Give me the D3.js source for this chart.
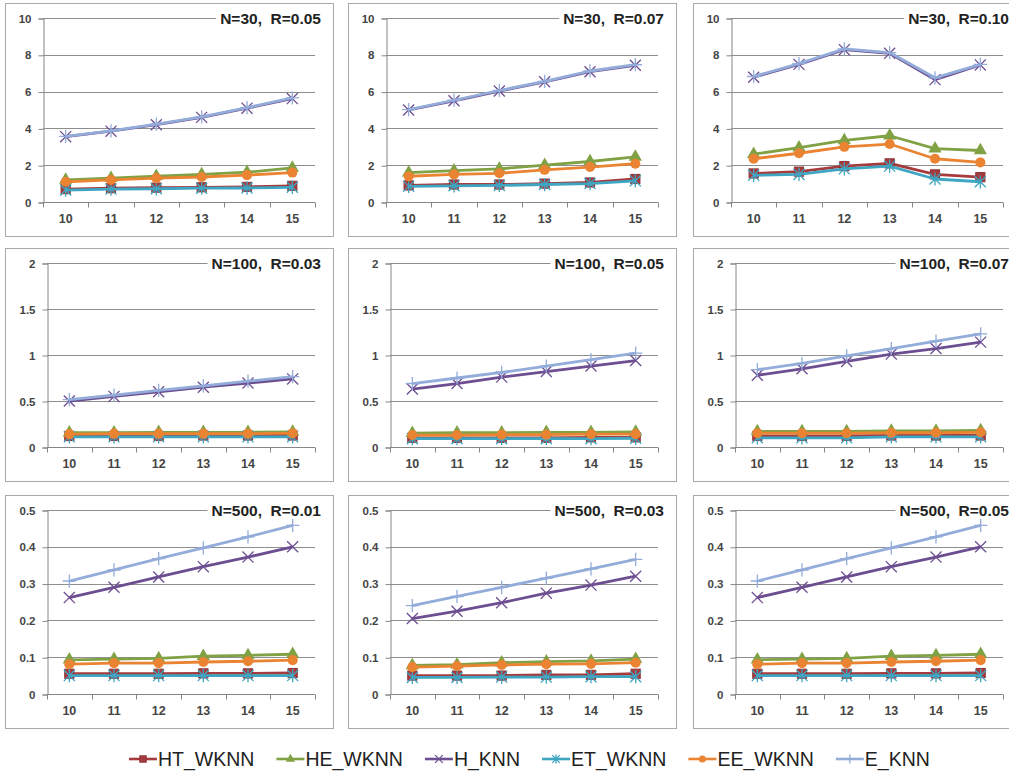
<!DOCTYPE html>
<html>
<head>
<meta charset="utf-8">
<script src="https://cdn.jsdelivr.net/npm/d3@7"></script>
<style>
body { margin: 0; background: #fff; }
svg { display: block; }
</style>
</head>
<body>
<svg id="chart"></svg>
<script>
var categories = [10, 11, 12, 13, 14, 15];
var seriesNames = ["HT_WKNN", "HE_WKNN", "H_KNN", "ET_WKNN", "EE_WKNN", "E_KNN"];
var seriesColors = ["#a63b3e", "#80a245", "#6d4e91", "#3ea6c2", "#ea8433", "#93acda"];
var seriesMarkers = ["square", "triangle", "x", "star", "circle", "plus"];
var panelTitles = ["N=30,  R=0.05", "N=30,  R=0.07", "N=30,  R=0.10",
	"N=100,  R=0.03", "N=100,  R=0.05", "N=100,  R=0.07",
	"N=500,  R=0.01", "N=500,  R=0.03", "N=500,  R=0.05"];
var rowTicks = [
	[0, 2, 4, 6, 8, 10],
	[0, 0.5, 1, 1.5, 2],
	[0, 0.1, 0.2, 0.3, 0.4, 0.5]
];

// one row per series, same order as seriesNames
var n30r05 = [
	[0.70, 0.75, 0.78, 0.80, 0.82, 0.88],
	[1.20, 1.30, 1.40, 1.50, 1.62, 1.85],
	[3.55, 3.85, 4.20, 4.60, 5.10, 5.62],
	[0.65, 0.70, 0.72, 0.75, 0.76, 0.80],
	[1.10, 1.20, 1.30, 1.36, 1.46, 1.60],
	[3.57, 3.87, 4.23, 4.63, 5.13, 5.66]
];
var n30r07 = [
	[0.90, 0.95, 0.95, 1.00, 1.06, 1.25],
	[1.60, 1.70, 1.80, 2.00, 2.20, 2.45],
	[5.00, 5.50, 6.03, 6.53, 7.08, 7.43],
	[0.85, 0.88, 0.90, 0.95, 1.00, 1.15],
	[1.40, 1.50, 1.56, 1.75, 1.90, 2.08],
	[5.02, 5.53, 6.06, 6.56, 7.12, 7.46]
];
var n30r10 = [
	[1.55, 1.65, 1.95, 2.10, 1.50, 1.35],
	[2.60, 2.95, 3.35, 3.60, 2.90, 2.80],
	[6.78, 7.48, 8.28, 8.08, 6.65, 7.45],
	[1.45, 1.50, 1.80, 1.95, 1.25, 1.10],
	[2.35, 2.65, 3.00, 3.15, 2.35, 2.15],
	[6.82, 7.52, 8.32, 8.12, 6.75, 7.48]
];
var n100r03 = [
	[0.120, 0.120, 0.120, 0.125, 0.125, 0.125],
	[0.155, 0.155, 0.160, 0.160, 0.160, 0.165],
	[0.500, 0.550, 0.600, 0.650, 0.695, 0.740],
	[0.110, 0.110, 0.110, 0.110, 0.110, 0.110],
	[0.140, 0.145, 0.145, 0.145, 0.145, 0.150],
	[0.515, 0.565, 0.615, 0.665, 0.715, 0.765]
];
var n100r05 = [
	[0.100, 0.100, 0.100, 0.100, 0.105, 0.105],
	[0.150, 0.155, 0.155, 0.160, 0.160, 0.165],
	[0.630, 0.690, 0.760, 0.820, 0.880, 0.940],
	[0.090, 0.090, 0.090, 0.090, 0.090, 0.095],
	[0.130, 0.130, 0.135, 0.135, 0.140, 0.140],
	[0.690, 0.750, 0.810, 0.880, 0.950, 1.020]
];
var n100r07 = [
	[0.120, 0.120, 0.120, 0.125, 0.125, 0.125],
	[0.170, 0.170, 0.170, 0.175, 0.175, 0.180],
	[0.780, 0.850, 0.930, 1.010, 1.070, 1.140],
	[0.100, 0.100, 0.100, 0.110, 0.110, 0.110],
	[0.150, 0.150, 0.150, 0.155, 0.155, 0.160],
	[0.840, 0.910, 0.990, 1.070, 1.150, 1.230]
];
var n500r01 = [
	[0.055, 0.055, 0.055, 0.056, 0.056, 0.057],
	[0.093, 0.095, 0.097, 0.103, 0.105, 0.108],
	[0.262, 0.290, 0.318, 0.346, 0.372, 0.400],
	[0.050, 0.050, 0.050, 0.050, 0.050, 0.050],
	[0.081, 0.084, 0.084, 0.087, 0.089, 0.092],
	[0.307, 0.337, 0.368, 0.397, 0.427, 0.458]
];
var n500r03 = [
	[0.050, 0.050, 0.050, 0.052, 0.052, 0.055],
	[0.078, 0.080, 0.085, 0.088, 0.090, 0.095],
	[0.205, 0.225, 0.248, 0.274, 0.296, 0.320],
	[0.045, 0.045, 0.046, 0.046, 0.047, 0.047],
	[0.073, 0.076, 0.079, 0.081, 0.082, 0.085],
	[0.240, 0.265, 0.290, 0.315, 0.340, 0.366]
];
var n500r05 = [
	[0.055, 0.055, 0.055, 0.056, 0.056, 0.057],
	[0.093, 0.095, 0.097, 0.103, 0.105, 0.108],
	[0.262, 0.290, 0.318, 0.346, 0.372, 0.400],
	[0.050, 0.050, 0.050, 0.050, 0.050, 0.050],
	[0.081, 0.084, 0.084, 0.087, 0.089, 0.092],
	[0.307, 0.337, 0.368, 0.397, 0.427, 0.458]
];
var panelValues = [n30r05, n30r07, n30r10, n100r03, n100r05, n100r07, n500r01, n500r03, n500r05];

var width = 1009,
	height = 774,
	boxX = [5, 348, 693],
	boxY = [3, 248, 495],
	boxW = 328,
	boxH = 233,
	font = "'Liberation Sans', Arial, sans-serif";

var svg = d3.select("#chart").attr("width", width).attr("height", height);
svg.append("rect").attr("width", width).attr("height", height).attr("fill", "#fff");

var drawMarker = function(sel, type, color, s) {
	if (type == "square") {
		sel.append("rect").attr("x", -s).attr("y", -s).attr("width", 2*s).attr("height", 2*s)
			.attr("fill", color).attr("stroke", d3.color(color).darker(0.4));
	} else if (type == "triangle") {
		sel.append("path").attr("d", d3.symbol(d3.symbolTriangle, s*s*3.6)())
			.attr("fill", color);
	} else if (type == "circle") {
		sel.append("circle").attr("r", s*1.1).attr("fill", color);
	} else {
		var d = "";
		var r = s*1.2;
		if (type == "x" || type == "star") d += "M" + (-r) + "," + (-r) + "L" + r + "," + r + "M" + (-r) + "," + r + "L" + r + "," + (-r);
		if (type == "star") d += "M0," + (-r*1.2) + "L0," + (r*1.2);
		if (type == "plus") d += "M" + (-r*1.2) + ",0L" + (r*1.2) + ",0M0," + (-r*1.2) + "L0," + (r*1.2);
		sel.append("path").attr("d", d).attr("fill", "none").attr("stroke", color).attr("stroke-width", 1.3);
	}
}

var drawPanel = function(i) {
	var col = i % 3,
		row = Math.floor(i/3),
		left = row == 0 ? 38 : 42,
		right = boxW - 18,
		top = 15,
		bottom = 199,
		ticks = rowTicks[row];

	var g = svg.append("g").attr("transform", "translate(" + boxX[col] + "," + boxY[row] + ")");
	g.append("rect").attr("x", 0.5).attr("y", 0.5).attr("width", boxW).attr("height", boxH)
		.attr("fill", "#fff").attr("stroke", "#a9a9a9");

	var y = d3.scaleLinear().domain([0, d3.max(ticks)]).range([bottom, top]);
	var x = d3.scaleBand().domain(categories).range([left, right]);
	var bw = x.bandwidth();

	g.append("g").selectAll("line").data(ticks.slice(1)).join("line")
		.attr("x1", left).attr("x2", right)
		.attr("y1", function(d){ return Math.round(y(d)) + 0.5; })
		.attr("y2", function(d){ return Math.round(y(d)) + 0.5; })
		.attr("stroke", "#8e8e8e");

	var yAxis = g.append("g").attr("transform", "translate(" + (left + 0.5) + ",0.5)")
		.call(d3.axisLeft(y).tickValues(ticks).tickSize(5).tickPadding(7).tickFormat(function(d){ return String(d); }));
	yAxis.selectAll("text").attr("font-family", font).attr("font-size", 11.5).attr("font-weight", "bold").attr("fill", "#444");

	var xAxis = g.append("g").attr("transform", "translate(0," + (bottom + 0.5) + ")")
		.call(d3.axisBottom(x).tickSize(0).tickPadding(12));
	xAxis.selectAll("text").attr("font-family", font).attr("font-size", 12.5).attr("font-weight", "bold").attr("fill", "#444");
	xAxis.select(".domain").remove();
	xAxis.append("g").selectAll("line").data(categories.concat(["end"])).join("line")
		.attr("x1", function(d){ return Math.round(d == "end" ? right : x(d)) + 0.5; })
		.attr("x2", function(d){ return Math.round(d == "end" ? right : x(d)) + 0.5; })
		.attr("y1", 0).attr("y2", 5).attr("stroke", "#868686");
	xAxis.append("line").attr("x1", left).attr("x2", right).attr("stroke", "#868686");
	g.selectAll(".domain").attr("stroke", "#868686");
	g.selectAll(".tick line").attr("stroke", "#868686");

	var line = d3.line()
		.x(function(d, k){ return x(categories[k]) + bw/2; })
		.y(function(d){ return y(d); });

	panelValues[i].forEach(function(vals, s) {
		g.append("path").datum(vals).attr("d", line)
			.attr("fill", "none").attr("stroke", seriesColors[s]).attr("stroke-width", 2.8)
			.attr("stroke-linejoin", "round");
		vals.forEach(function(v, k) {
			var m = g.append("g").attr("transform", "translate(" + (x(categories[k]) + bw/2) + "," + y(v) + ")");
			drawMarker(m, seriesMarkers[s], seriesColors[s], 4.6);
		});
	});

	var title = g.append("text").attr("x", boxW - 12).attr("y", top + 5.5)
		.attr("text-anchor", "end").attr("font-family", font).attr("font-size", 15.5)
		.attr("font-weight", "bold").attr("fill", "#222")
		.style("white-space", "pre").text(panelTitles[i]);
	var bb = title.node().getBBox();
	g.append("rect").attr("x", bb.x - 4).attr("y", bb.y).attr("width", bb.width + 8).attr("height", bb.height)
		.attr("fill", "#fff");
	title.raise();
}

for (var i = 0; i < panelValues.length; i++) drawPanel(i);

// legend
var legend = svg.append("g").attr("transform", "translate(0,759)");
var lx = 129;
seriesNames.forEach(function(name, s) {
	var item = legend.append("g").attr("transform", "translate(" + lx + ",0)");
	item.append("line").attr("x1", 0).attr("x2", 28).attr("stroke", seriesColors[s]).attr("stroke-width", 2.6);
	drawMarker(item.append("g").attr("transform", "translate(14,0)"), seriesMarkers[s], seriesColors[s], 3.2);
	var t = item.append("text").attr("x", 29).attr("y", 7).attr("font-family", font)
		.attr("font-size", 19.5).attr("fill", "#222").text(name);
	lx += 29 + t.node().getComputedTextLength() + 22;
});
</script>
</body>
</html>
